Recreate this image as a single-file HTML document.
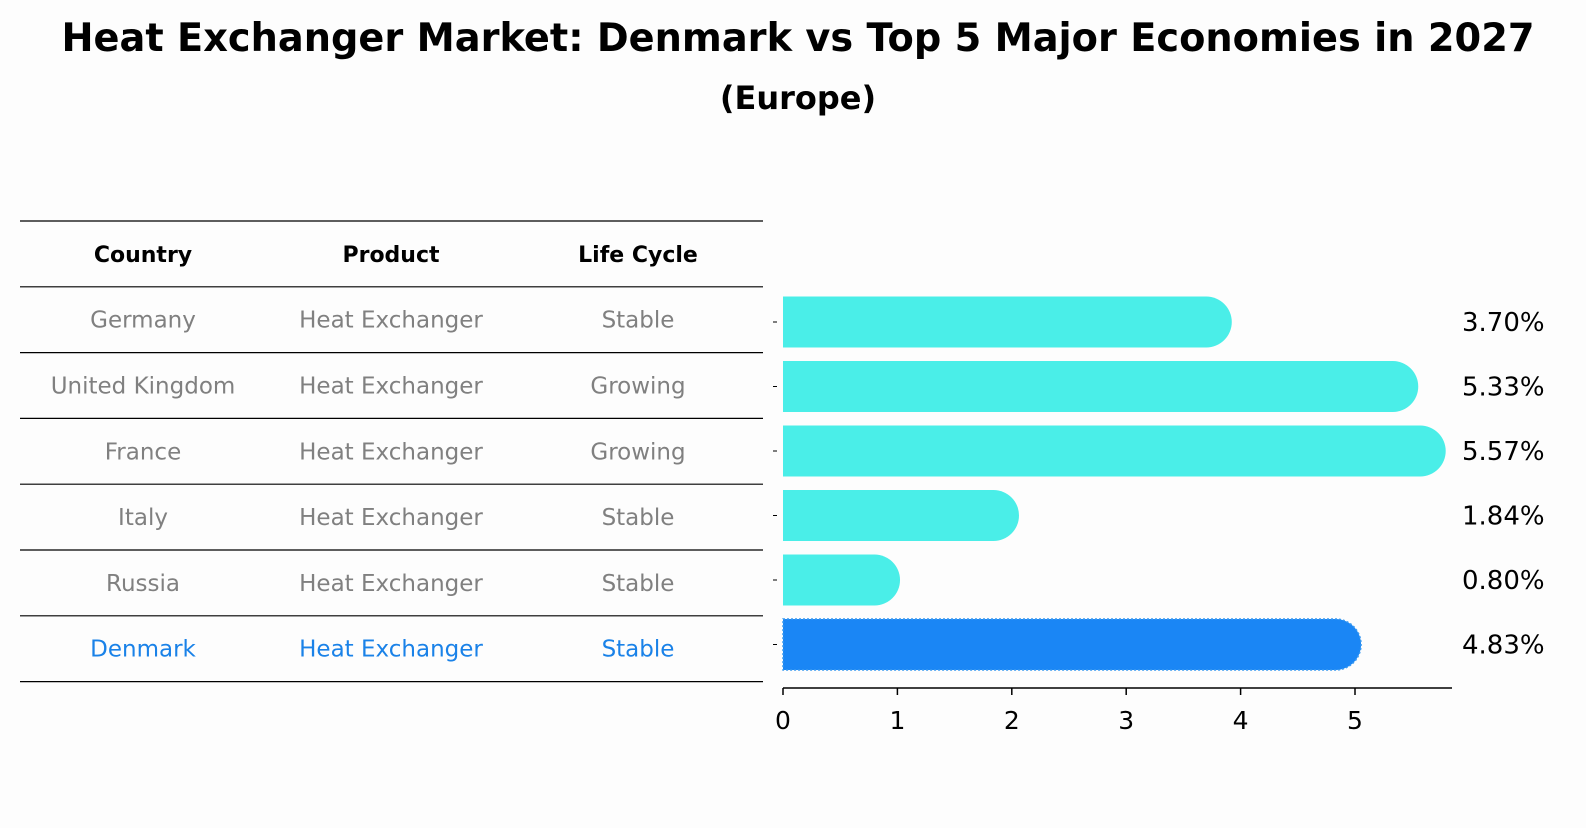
<!DOCTYPE html>
<html><head><meta charset="utf-8"><style>
body{margin:0;background:#fdfdfd;font-family:"Liberation Sans","DejaVu Sans",sans-serif}
</style></head><body>
<svg width="1586" height="823" xmlns="http://www.w3.org/2000/svg" font-family="DejaVu Sans, Liberation Sans, sans-serif">
<rect width="1586" height="823" fill="#fdfdfd"/>
<text x="798" y="51" text-anchor="middle" font-size="39" font-weight="bold" textLength="1473" lengthAdjust="spacingAndGlyphs">Heat Exchanger Market: Denmark vs Top 5 Major Economies in 2027</text>
<text x="798" y="109" text-anchor="middle" font-size="32" font-weight="bold">(Europe)</text>
<g id="table"></g>
<g id="bars"></g>
</svg>
<script>
const countries=["Germany","United Kingdom","France","Italy","Russia","Denmark"];
const products=["Heat Exchanger","Heat Exchanger","Heat Exchanger","Heat Exchanger","Heat Exchanger","Heat Exchanger"];
const lifeCycles=["Stable","Growing","Growing","Stable","Stable","Stable"];
const values=[3.70,5.33,5.57,1.84,0.80,4.83];
const xTicks=[0,1,2,3,4,5];
const NS="http://www.w3.org/2000/svg";
function mk(t,a,p){const e=document.createElementNS(NS,t);for(const k in a)e.setAttribute(k,a[k]);p.appendChild(e);return e;}
const tb=document.getElementById('table');
const rowH=65.8, tableTop=221;
for(let i=0;i<=7;i++){const l=mk('line',{x1:20,x2:763,y1:tableTop+i*rowH,y2:tableTop+i*rowH,stroke:'#000','stroke-width':1.2},tb);

}
const colX=[143,391,638];
["Country","Product","Life Cycle"].forEach((h,j)=>{const t=mk('text',{x:colX[j],y:tableTop+rowH/2+8,'text-anchor':'middle','font-size':22,'font-weight':'bold'},tb);t.textContent=h;

});
countries.forEach((c,i)=>{const y=tableTop+(i+1.5)*rowH+8;const col=c==="Denmark"?'#1a82e8':'#808080';
[c,products[i],lifeCycles[i]].forEach((v,j)=>{const t=mk('text',{x:colX[j],y:y,'text-anchor':'middle','font-size':23,fill:col},tb);t.textContent=v;

});});
const bg=document.getElementById('bars');
const x0=783, pxU=114.4;
const X=v=>x0+v*pxU;
const Y=i=>322+i*64.5;
const bh=51;
values.forEach((v,i)=>{const y=Y(i)-bh/2;let b;
if(countries[i]==="Denmark"){
b=mk('path',{d:`M${x0} ${y} H${X(v)} A${bh/2} ${bh/2} 0 0 1 ${X(v)} ${y+bh} H${x0} Z`,fill:'#1a86f5',stroke:'#3a9af0','stroke-dasharray':'2,2','stroke-width':1.5},bg);
}else{
b=mk('path',{d:`M${x0} ${y} H${X(v)} A${bh/2} ${bh/2} 0 0 1 ${X(v)} ${y+bh} H${x0} Z`,fill:'#4aeee8'},bg);}


const t=mk('text',{x:1462,y:Y(i)+9,'font-size':26},bg);t.textContent=v.toFixed(2)+'%';


const tk=mk('line',{x1:x0-10,x2:x0-6,y1:Y(i),y2:Y(i),stroke:'#000'},bg);


});
const ax=mk('line',{x1:x0,x2:1452,y1:688,y2:688,stroke:'#000','stroke-width':1.5},bg);


xTicks.forEach(v=>{const l=mk('line',{x1:X(v),x2:X(v),y1:688,y2:695,stroke:'#000','stroke-width':1.5},bg);


const t=mk('text',{x:X(v),y:729,'text-anchor':'middle','font-size':25},bg);t.textContent=v;

});
</script>
</body></html>
